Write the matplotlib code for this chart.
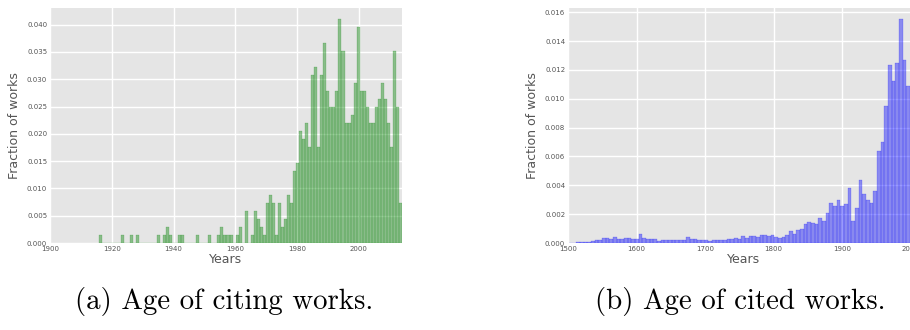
import matplotlib
matplotlib.use("Agg")
import matplotlib.pyplot as plt
import numpy as np

# (a) citing works: histogram counts, 100 bins between 1916 and 2014
citing_range = (1916, 2014)
citing_counts = [
    1, 0, 0, 0, 0, 0, 0, 1, 0, 0,
    1, 0, 1, 0, 0, 0, 0, 0, 0, 1,
    0, 1, 2, 1, 0, 0, 1, 1, 0, 0,
    0, 0, 1, 0, 0, 0, 1, 0, 0, 1,
    2, 1, 1, 1, 0, 1, 2, 0, 4, 0,
    1, 4, 3, 2, 1, 5, 6, 5, 1, 5,
    2, 3, 6, 5, 9, 10, 14, 13, 15, 12,
    21, 22, 12, 21, 25, 19, 17, 17, 19, 28,
    24, 15, 15, 16, 20, 27, 19, 19, 17, 15,
    15, 17, 18, 20, 18, 15, 12, 24, 17, 5,
]

# (b) cited works: fraction of works per bin (bins of ~5.35 years from 1501.5)
cited_start = 1501.5
cited_binwidth = 5.35
cited_fraction = [
    0.00003, 0.00002, 0.00005, 0.00005, 0.00005, 0.00005, 0.00012, 0.00019, 0.00019, 0.00033,
    0.00037, 0.00030, 0.00040, 0.00030, 0.00026, 0.00037, 0.00037, 0.00026, 0.00030, 0.00065,
    0.00033, 0.00028, 0.00028, 0.00028, 0.00014, 0.00021, 0.00023, 0.00019, 0.00019, 0.00019,
    0.00021, 0.00023, 0.00044, 0.00028, 0.00030, 0.00021, 0.00023, 0.00019, 0.00014, 0.00023,
    0.00023, 0.00023, 0.00019, 0.00028, 0.00025, 0.00037, 0.00028, 0.00048, 0.00037, 0.00048,
    0.00048, 0.00044, 0.00058, 0.00058, 0.00048, 0.00055, 0.00044, 0.00037, 0.00044, 0.00058,
    0.00086, 0.00062, 0.00090, 0.00100, 0.00132, 0.00148, 0.00138, 0.00134, 0.00175, 0.00155,
    0.00210, 0.00280, 0.00256, 0.00300, 0.00258, 0.00272, 0.00383, 0.00154, 0.00244, 0.00438,
    0.00341, 0.00300, 0.00279, 0.00362, 0.00636, 0.00700, 0.00950, 0.01233, 0.01123, 0.01247,
    0.01552, 0.01268, 0.01088,
]

GRAY_BG = "#E5E5E5"
TXT = "#555555"


def style_axes(ax):
    ax.set_facecolor(GRAY_BG)
    for s in ax.spines.values():
        s.set_visible(False)
    ax.grid(True, color="white", linewidth=1.0)
    ax.set_axisbelow(True)
    ax.tick_params(length=0, labelsize=5, labelcolor=TXT, pad=2)
    ax.set_xlabel("Years", fontsize=9, color=TXT, labelpad=1)
    ax.set_ylabel("Fraction of works", fontsize=9, color=TXT, labelpad=4)


fig = plt.figure(figsize=(9.1, 3.3), dpi=100)

# left panel
ax1 = fig.add_axes([50 / 910, 87 / 330, 352 / 910, 235 / 330])
edges = np.linspace(citing_range[0], citing_range[1], len(citing_counts) + 1)
w1 = edges[1] - edges[0]
counts = np.array(citing_counts, dtype=float)
dens = counts / (counts.sum() * w1)
ax1.bar(edges[:-1], dens, width=w1, align="edge", color="g", alpha=0.4,
        edgecolor="g", linewidth=0.3)
ax1.set_xlim(1900, 2014)
ax1.set_ylim(0, dens.max() * 1.05)
ax1.set_xticks(np.arange(1900, 2001, 20))
ax1.set_yticks(np.arange(0, 0.0401, 0.005))
ax1.yaxis.set_major_formatter(plt.FormatStrFormatter("%.3f"))
style_axes(ax1)

# right panel (runs past the right edge of the image)
ax2 = fig.add_axes([568 / 910, 87 / 330, 352 / 910, 235 / 330])
vals = np.array(cited_fraction)
left2 = cited_start + cited_binwidth * np.arange(len(vals))
ax2.bar(left2, vals, width=cited_binwidth, align="edge", color="b", alpha=0.4,
        edgecolor="b", linewidth=0.3)
ax2.set_xlim(1500, 2013.5)
ax2.set_ylim(0, vals.max() * 1.05)
ax2.set_xticks(np.arange(1500, 2001, 100))
ax2.set_yticks(np.arange(0, 0.0161, 0.002))
ax2.yaxis.set_major_formatter(plt.FormatStrFormatter("%.3f"))
style_axes(ax2)

fig.text(224 / 910, 1 - 301 / 330, "(a) Age of citing works.", ha="center", va="center",
         fontfamily="cmr10", fontsize=20.8)
fig.text(740 / 910, 1 - 301 / 330, "(b) Age of cited works.", ha="center", va="center",
         fontfamily="cmr10", fontsize=20.8)

fig.savefig("out.png", dpi=100)
